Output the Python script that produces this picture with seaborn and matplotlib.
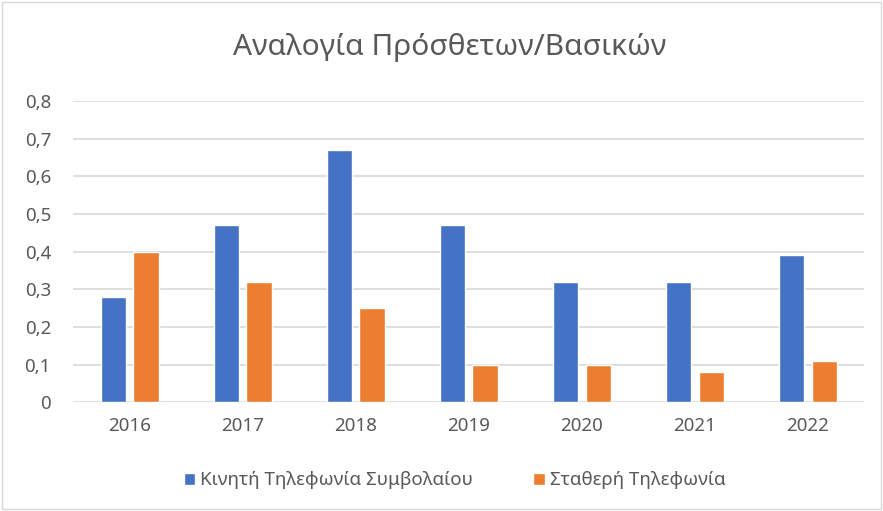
import matplotlib
matplotlib.use("Agg")
import matplotlib.pyplot as plt
from matplotlib.ticker import FuncFormatter, MultipleLocator
from matplotlib.patches import Rectangle
import seaborn as sns
import pandas as pd

years = ["2016", "2017", "2018", "2019", "2020", "2021", "2022"]
mobile = [0.28, 0.47, 0.67, 0.47, 0.32, 0.32, 0.39]
fixed = [0.40, 0.32, 0.25, 0.10, 0.10, 0.08, 0.11]
series = ["Κινητή Τηλεφωνία Συμβολαίου", "Σταθερή Τηλεφωνία"]
title = "Αναλογία Πρόσθετων/Βασικών"

sns.set_theme(style="white")
plt.rcParams["font.family"] = ["Noto Sans", "DejaVu Sans"]

df = pd.DataFrame({
    "year": years * 2,
    "value": mobile + fixed,
    "series": [series[0]] * len(years) + [series[1]] * len(years),
})

text_col = "#595959"
fig = plt.figure(figsize=(8.83, 5.11), dpi=100)
ax = fig.add_axes([0.083, 0.213, 0.896, 0.589])

sns.barplot(data=df, x="year", y="value", hue="series",
            palette=["#4472C4", "#ED7D31"], width=0.58, gap=0.22,
            saturation=1, ax=ax, legend=True)

ax.set_ylim(0, 0.8)
ax.yaxis.set_major_locator(MultipleLocator(0.1))
ax.yaxis.set_major_formatter(FuncFormatter(
    lambda v, p: "0" if abs(v) < 1e-9 else f"{v:.1f}".replace(".", ",")))
ax.grid(axis="y", color="#d9d9d9", linewidth=1.2)
ax.set_axisbelow(True)
for s in ax.spines.values():
    s.set_visible(False)
ax.tick_params(axis="both", length=0, labelsize=13.5, labelcolor=text_col)
ax.tick_params(axis="y", pad=16)
ax.tick_params(axis="x", pad=11)
ax.set_xlabel("")
ax.set_ylabel("")

fig.text(0.509, 0.908, title, ha="center", va="center",
         fontsize=21.5, color=text_col)

handles, labels = ax.get_legend_handles_labels()
ax.legend_.remove()
fig.legend(handles, labels, loc="center", bbox_to_anchor=(0.515, 0.06),
           ncol=2, frameon=False, fontsize=13.5, labelcolor=text_col,
           handlelength=0.6, handleheight=0.6, handletextpad=0.3,
           columnspacing=3.2)

fig.patches.append(Rectangle((0.002, 0.003), 0.996, 0.994,
                             transform=fig.transFigure, fill=False,
                             edgecolor="#d9d9d9", linewidth=1))

fig.savefig("out.png", dpi=100)
